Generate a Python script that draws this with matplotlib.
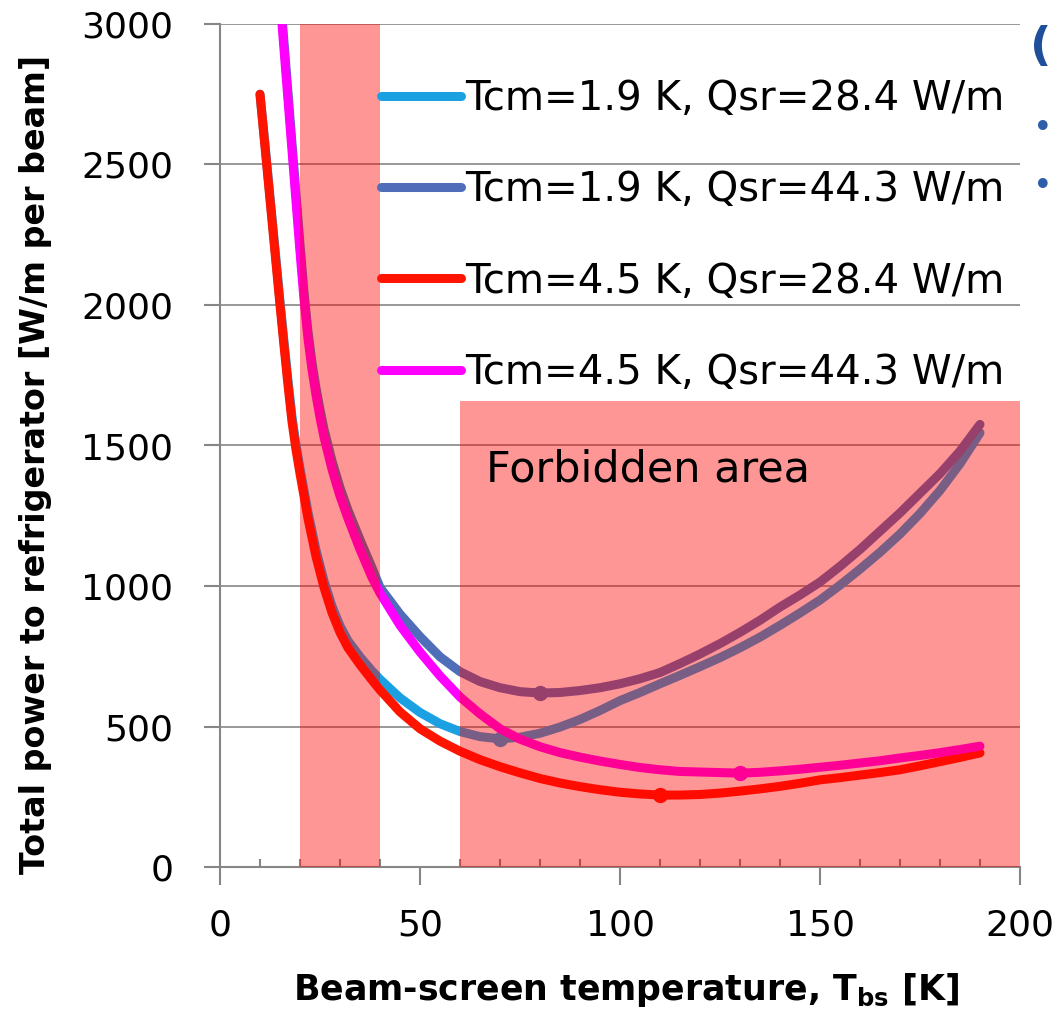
import matplotlib
matplotlib.use("Agg")
import matplotlib.pyplot as plt
from matplotlib.ticker import MultipleLocator

plt.rcParams['font.family'] = ['DejaVu Sans']
plt.rcParams['mathtext.fontset'] = 'dejavusans'

# data
t_low_q = [10, 11, 12, 13, 14, 15, 16, 17, 18, 19, 20, 22, 24, 26, 28, 30, 32,
           35, 38, 40, 45, 50, 55, 60, 65, 70, 75, 80, 85, 90, 95, 100, 105,
           110, 115, 120, 125, 130, 135, 140, 145, 150, 155, 160, 165, 170,
           175, 180, 185, 190]
p_19_284 = [2750, 2608, 2460, 2311, 2162, 2013, 1870, 1731, 1603, 1503, 1418,
            1262, 1128, 1018, 928, 858, 805, 748, 698, 668, 602, 550, 510, 482,
            464, 456, 462, 476, 498, 525, 557, 592, 621, 652, 682, 713, 745,
            780, 818, 860, 904, 950, 1003, 1060, 1120, 1185, 1258, 1340, 1435,
            1545]
p_45_284 = [2750, 2600, 2450, 2300, 2150, 2000, 1855, 1715, 1585, 1485, 1400,
            1240, 1105, 995, 905, 835, 780, 720, 665, 630, 552, 492, 448, 412,
            382, 357, 335, 315, 299, 286, 275, 266, 260, 256, 256, 258, 263,
            270, 278, 287, 298, 310, 318, 327, 336, 346, 360, 375, 390, 406]

t_high_q = [15, 16, 17, 18, 19, 20, 21, 22, 23, 24, 25, 26, 28, 30, 32, 35, 38,
            40, 45, 50, 55, 60, 65, 70, 75, 80, 85, 90, 95, 100, 105, 110, 115,
            120, 125, 130, 135, 140, 145, 150, 155, 160, 165, 170, 175, 180,
            185, 190]
p_19_443 = [3115, 2935, 2755, 2575, 2395, 2215, 2045, 1905, 1795, 1705, 1628,
            1558, 1445, 1350, 1270, 1165, 1065, 995, 900, 820, 748, 695, 660,
            638, 624, 619, 621, 628, 638, 652, 670, 692, 724, 758, 795, 835,
            878, 925, 968, 1014, 1070, 1130, 1195, 1260, 1330, 1400, 1480, 1575]
p_45_443 = [3090, 2910, 2730, 2550, 2370, 2190, 2020, 1880, 1770, 1680, 1600,
            1530, 1415, 1320, 1240, 1130, 1030, 975, 860, 765, 680, 605, 545,
            492, 455, 428, 407, 391, 377, 365, 354, 346, 340, 338, 336, 334,
            337, 342, 348, 355, 362, 370, 378, 388, 397, 407, 418, 430]

labels = ["Tcm=1.9 K, Qsr=28.4 W/m", "Tcm=1.9 K, Qsr=44.3 W/m",
          "Tcm=4.5 K, Qsr=28.4 W/m", "Tcm=4.5 K, Qsr=44.3 W/m"]
colors = ["#1BA1E2", "#4F6DB8", "#FF1400", "#FF00FF"]

# forbidden zones: (x start, x end, top)
forbidden = [(20, 40, 3000), (60, 200, 1660)]

fig = plt.figure(figsize=(10.61, 10.22), dpi=100)
ax = fig.add_axes([220 / 1061, 155 / 1022, 800 / 1061, 843 / 1022])

series = [(t_low_q, p_19_284), (t_high_q, p_19_443),
          (t_low_q, p_45_284), (t_high_q, p_45_443)]

for (t, p), lab, c in zip(series, labels, colors):
    ax.plot(t, p, color=c, lw=6.5, label=lab, solid_capstyle='round',
            solid_joinstyle='round', zorder=2)
    # marker at the optimum
    i = p.index(min(p))
    ax.plot([t[i]], [p[i]], 'o', color=c, ms=10, zorder=2)

# shaded forbidden areas on top of the curves
for x0, x1, top in forbidden:
    ax.fill_between([x0, x1], 0, top, color="#FF0000", alpha=0.41,
                    lw=0, zorder=3)

ax.text(66.5, 1413, "Forbidden area", fontsize=31, ha='left', va='center',
        zorder=5)

ax.set_xlim(0, 200)
ax.set_ylim(0, 3000)
ax.xaxis.set_major_locator(MultipleLocator(50))
ax.xaxis.set_minor_locator(MultipleLocator(10))
ax.yaxis.set_major_locator(MultipleLocator(500))

ax.grid(axis='y', color='#868686', lw=1.2, zorder=0)
ax.set_axisbelow(True)
for s in ['top', 'right']:
    ax.spines[s].set_visible(False)
for s in ['left', 'bottom']:
    ax.spines[s].set_color('#868686')
    ax.spines[s].set_linewidth(1.5)

ax.tick_params(axis='x', which='major', direction='out', length=13,
               width=1.5, color='#868686', labelsize=26, pad=17)
ax.tick_params(axis='x', which='minor', direction='in', length=6,
               width=1.5, color='#868686')
ax.tick_params(axis='y', which='major', direction='out', length=11.5,
               width=1.5, color='#868686', labelsize=26, pad=22)

ax.set_xlabel(r"Beam-screen temperature, T$_{\mathbf{bs}}$ [K]",
              fontsize=25, fontweight='bold', va='center')
ax.xaxis.set_label_coords(0.5075, -0.146)
ax.set_ylabel("Total power to refrigerator [W/m per beam]", fontsize=24,
              fontweight='bold', va='center')
ax.yaxis.set_label_coords(-0.231, 0.477)

leg = ax.legend(loc='upper left', bbox_to_anchor=(0.201, 0.9345),
                frameon=False, fontsize=29, handlelength=2.0,
                handletextpad=0.1, labelspacing=1.27, borderpad=0,
                borderaxespad=0)
leg.set_zorder(6)

# cut-off pieces from the neighbouring slide
fig.text(1030 / 1061, 1 - 48 / 1022, "(", fontsize=34, fontweight='bold',
         color='#1F4E9A', ha='left', va='center')
fig.text(1033 / 1061, 1 - 128 / 1022, "•", fontsize=24, color='#2E5EAA',
         ha='left', va='center')
fig.text(1033 / 1061, 1 - 187 / 1022, "•", fontsize=24, color='#2E5EAA',
         ha='left', va='center')

fig.savefig("out.png", dpi=100)
